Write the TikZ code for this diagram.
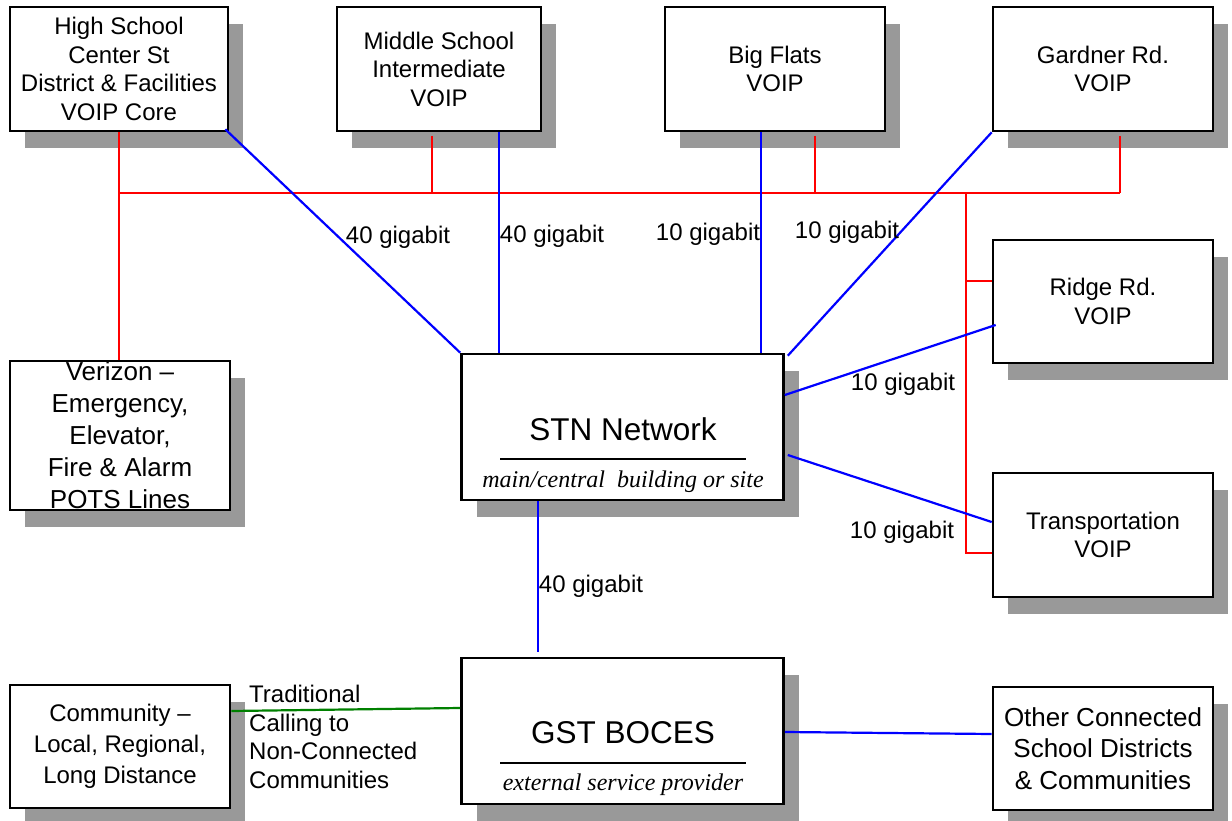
\documentclass[tikz,border=0pt]{standalone}
\usepackage{fontspec}
\setmainfont{Liberation Sans}
\newfontfamily\captionserif{Liberation Serif}
\usetikzlibrary{shadows}

\definecolor{shadowgray}{RGB}{153,153,153}
\definecolor{linkred}{RGB}{255,0,0}
\definecolor{linkblue}{RGB}{0,0,255}
\definecolor{linkgreen}{RGB}{0,128,0}

\tikzset{
  site/.style={rectangle, draw=black, line width=2.6pt, fill=white,
    inner sep=0pt, align=center,
    font=\fontsize{24}{28.5}\selectfont,
    general shadow={fill=shadowgray, shadow xshift=15pt, shadow yshift=-17pt}},
  hub/.style={site},
  hubtitle/.style={inner sep=0pt, font=\fontsize{31.5}{36}\selectfont},
  hubnote/.style={inner sep=0pt, font=\captionserif\itshape\fontsize{24}{26}\selectfont},
  rate/.style={inner sep=0pt, font=\fontsize{24}{28}\selectfont},
  redlink/.style={draw=linkred, line width=2.2pt},
  bluelink/.style={draw=linkblue, line width=2.2pt},
  greenlink/.style={draw=linkgreen, line width=2.2pt},
}

\begin{document}
\begin{tikzpicture}[x=1pt, y=-1pt]
\useasboundingbox (0,0) rectangle (1232,821);

% ---- sites along the top ----
\node[site, minimum width=218pt, minimum height=124pt] (hs) at (119,69)
  {High School\\Center St\\District \& Facilities\\VOIP Core};
\node[site, minimum width=204pt, minimum height=124pt] (ms) at (439,69)
  {Middle School\\Intermediate\\VOIP};
\node[site, minimum width=220pt, minimum height=124pt] (bf) at (775,69)
  {Big Flats\\VOIP};
\node[site, minimum width=220pt, minimum height=124pt] (gr) at (1103,69)
  {Gardner Rd.\\VOIP};

% ---- sites on the right ----
\node[site, minimum width=220pt, minimum height=123pt] (rr) at (1103,301.5)
  {Ridge Rd.\\VOIP};
\node[site, minimum width=220pt, minimum height=124pt] (tr) at (1103,535)
  {Transportation\\VOIP};

% ---- analog lines ----
\node[site, minimum width=220pt, minimum height=149pt,
      font=\fontsize{26}{32}\selectfont] (ver) at (120,435.5)
  {Verizon --\\Emergency,\\Elevator,\\Fire \& Alarm\\POTS Lines};

% ---- central network and provider ----
\node[hub, minimum width=322pt, minimum height=146pt] (stn) at (622.5,427) {};
\node[hubtitle] (stnname) at (623,429) {STN Network};
\draw[line width=2.4pt] (500,459) -- (746,459);
\node[hubnote] (stnnote) at (623,482) {main/central\ \ building or site};

\node[hub, minimum width=322pt, minimum height=146pt] (gst) at (622.5,731) {};
\node[hubtitle] (gstname) at (623,733) {GST BOCES};
\draw[line width=2.4pt] (500,763) -- (746,763);
\node[hubnote] (gstnote) at (623,785) {external service provider};

% ---- outside parties ----
\node[site, minimum width=220pt, minimum height=123pt,
      font=\fontsize{24}{31}\selectfont] (com) at (120,746.5)
  {Community --\\Local, Regional,\\Long Distance};
\node[site, minimum width=220pt, minimum height=123pt,
      font=\fontsize{26}{31.5}\selectfont] (oth) at (1103,748.5)
  {Other Connected\\School Districts\\\& Communities};

% ---- red voice bus ----
\coordinate (busy) at (0,193);
\coordinate (msR) at (432,136);
\coordinate (bfR) at (815,136);
\coordinate (grR) at (1120,136);
\coordinate (riser) at (966,193);
\coordinate (rrB) at ([yshift=20.5pt]rr.west);
\coordinate (trB) at ([yshift=-18pt]tr.west);

\draw[redlink] (hs.south) -- (hs.south |- ver.north);
\draw[redlink] (hs.south |- busy) -- (grR |- busy);
\draw[redlink] (msR) -- (msR |- busy);
\draw[redlink] (bfR) -- (bfR |- busy);
\draw[redlink] (grR) -- (grR |- busy);
\draw[redlink] (riser) -- (riser |- trB) -- (trB);
\draw[redlink] (riser |- rrB) -- (rrB);

% ---- blue fiber links ----
\coordinate (msB) at ([xshift=163pt]ms.south west);
\coordinate (bfB) at ([xshift=-14pt]bf.south);
\coordinate (trunk) at ([xshift=-84.5pt]stn.south);

\draw[bluelink] ([shift={(-4pt,3pt)}]hs.south east) -- (stn.north west);
\draw[bluelink] (msB) -- (msB |- stn.north);
\draw[bluelink] (bfB) -- (bfB |- stn.north);
\draw[bluelink] (gr.south west) -- ([shift={(3pt,-3pt)}]stn.north east);
\draw[bluelink] ([yshift=32pt]stn.east) -- ([shift={(4pt,-23.5pt)}]rr.west);
\draw[bluelink] ([shift={(3pt,-28pt)}]stn.east) -- ([yshift=13pt]tr.west);
\draw[bluelink] (trunk) -- ([yshift=5pt]trunk |- gst.north);
\draw[bluelink] ([yshift=-1pt]gst.east) -- ([yshift=14.5pt]oth.west);

% ---- green local calling link ----
\draw[greenlink] ([yshift=35.5pt]com.east) -- ([yshift=23pt]gst.west);

% ---- link speeds ----
\node[rate] (r1) at (398,237) {40 gigabit};
\node[rate] (r2) at (552,236) {40 gigabit};
\node[rate] (r3) at (708,234) {10 gigabit};
\node[rate] (r4) at (847,232) {10 gigabit};
\node[rate] (r5) at (903,384) {10 gigabit};
\node[rate] (r6) at (902,532) {10 gigabit};
\node[rate] (r7) at (591,586) {40 gigabit};

\node[rate, anchor=north west, align=left, font=\fontsize{24}{28.7}\selectfont]
  (calling) at (249,685)
  {Traditional\\Calling to\\Non-Connected\\Communities};
\end{tikzpicture}
\end{document}
